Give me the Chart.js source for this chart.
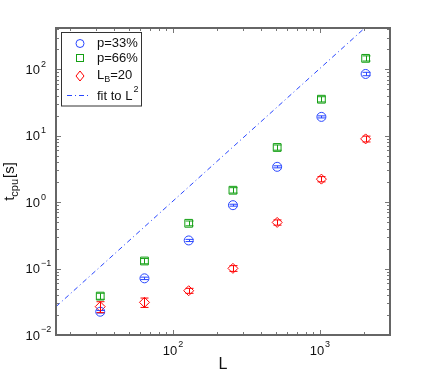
<!DOCTYPE html>
<html>
<head>
<meta charset="utf-8">
<script src="https://cdn.jsdelivr.net/npm/chart.js@4.4.0/dist/chart.umd.min.js"></script>
<style>
html, body { margin: 0; padding: 0; background: #fff; }
</style>
</head>
<body>
<canvas id="chartCpu" width="430" height="378"></canvas>
<script>
// system sizes and cpu times
var sizes = [32, 64, 128, 256, 512, 1024, 2048];
var timeP33 = [0.0224, 0.0713, 0.265, 0.90, 3.4, 19.2, 85];
var errP33 = [0.001, 0.003, 0.01, 0.03, 0.12, 0.7, 5];
var timeP66 = [0.0385, 0.130, 0.48, 1.51, 6.65, 35.4, 146];
var errP66 = [0.004, 0.012, 0.04, 0.14, 0.6, 3.2, 13];
var timeLB20 = [0.0267, 0.031, 0.0464, 0.1007, 0.495, 2.22, 8.95];
var errLB20 = [0.005, 0.005, 0.004, 0.01, 0.045, 0.2, 0.9];
var fitL = [16, 2048];
var fitT = [0.0267, 430];

var blue = 'rgb(40,70,255)';
var green = 'rgb(20,160,20)';
var red = 'rgb(255,0,0)';
var font = '"Liberation Sans", Arial, sans-serif';

function pts(xs, ys) {
    return xs.map(function (x, i) { return { x: x, y: ys[i] }; });
}

var series = [
    { vals: timeP33, errs: errP33, color: blue },
    { vals: timeP66, errs: errP66, color: green },
    { vals: timeLB20, errs: errLB20, color: red }
];

// error bars, drawn through the scales
var errorBars = {
    id: 'errorBars',
    afterDatasetsDraw: function (chart) {
        var ctx = chart.ctx, xs = chart.scales.x, ys = chart.scales.y;
        ctx.save();
        ctx.lineWidth = 1;
        series.forEach(function (s) {
            ctx.strokeStyle = s.color;
            sizes.forEach(function (L, i) {
                var px = Math.round(xs.getPixelForValue(L)) + 0.5;
                var y1 = ys.getPixelForValue(s.vals[i] - s.errs[i]);
                var y2 = ys.getPixelForValue(s.vals[i] + s.errs[i]);
                ctx.beginPath();
                ctx.moveTo(px, y1); ctx.lineTo(px, y2);
                ctx.moveTo(px - 4, y1); ctx.lineTo(px + 4, y1);
                ctx.moveTo(px - 4, y2); ctx.lineTo(px + 4, y2);
                ctx.stroke();
            });
        });
        ctx.restore();
    }
};

function powLabel(ctx, x, y, exp, align) {
    ctx.font = '13px ' + font;
    var w = ctx.measureText('10').width;
    ctx.font = '9px ' + font;
    var we = ctx.measureText(exp).width;
    var x0;
    if (align === 'center') x0 = x - (w + we + 1) / 2;
    else x0 = x - w; // base right aligned at x
    ctx.font = '13px ' + font;
    ctx.textAlign = 'left';
    ctx.textBaseline = 'middle';
    ctx.fillText('10', x0, y);
    ctx.font = '9px ' + font;
    ctx.fillText(exp, x0 + w + 1, y - 6);
}

// matlab style box with inward ticks and 10^n labels
var axesBox = {
    id: 'axesBox',
    afterDraw: function (chart) {
        var ctx = chart.ctx, a = chart.chartArea;
        var xs = chart.scales.x, ys = chart.scales.y;
        ctx.save();
        ctx.strokeStyle = '#777';
        ctx.lineWidth = 1;
        var d, m, v, p, len;
        for (d = Math.floor(Math.log10(xs.min)); d <= Math.ceil(Math.log10(xs.max)); d++) {
            for (m = 1; m <= 9; m++) {
                v = m * Math.pow(10, d);
                if (v < xs.min || v > xs.max) continue;
                p = Math.round(xs.getPixelForValue(v)) + 0.5;
                len = m === 1 ? 5 : 3;
                ctx.beginPath();
                ctx.moveTo(p, a.bottom); ctx.lineTo(p, a.bottom - len);
                ctx.moveTo(p, a.top); ctx.lineTo(p, a.top + len);
                ctx.stroke();
            }
        }
        for (d = Math.floor(Math.log10(ys.min)); d <= Math.ceil(Math.log10(ys.max)); d++) {
            for (m = 1; m <= 9; m++) {
                v = m * Math.pow(10, d);
                if (v < ys.min * 0.999 || v > ys.max) continue;
                p = Math.round(ys.getPixelForValue(v)) + 0.5;
                len = m === 1 ? 5 : 3;
                ctx.beginPath();
                ctx.moveTo(a.left, p); ctx.lineTo(a.left + len, p);
                ctx.moveTo(a.right, p); ctx.lineTo(a.right - len, p);
                ctx.stroke();
            }
        }
        ctx.strokeStyle = '#666';
        ctx.lineWidth = 2;
        ctx.strokeRect(a.left, a.top, a.right - a.left, a.bottom - a.top);

        ctx.fillStyle = '#111';
        [2, 3].forEach(function (e) {
            powLabel(ctx, xs.getPixelForValue(Math.pow(10, e)), a.bottom + 16, String(e), 'center');
        });
        [-2, -1, 0, 1, 2].forEach(function (e) {
            powLabel(ctx, 40, ys.getPixelForValue(Math.pow(10, e)) + 1, e < 0 ? '\u2212' + (-e) : String(e), 'right');
        });

        // axis titles
        ctx.font = '16px ' + font;
        ctx.textAlign = 'center';
        ctx.textBaseline = 'middle';
        ctx.fillText('L', (a.left + a.right) / 2, 365);

        ctx.save();
        ctx.translate(10, (a.top + a.bottom) / 2);
        ctx.rotate(-Math.PI / 2);
        ctx.textAlign = 'left';
        ctx.font = '15px ' + font;
        var wt = ctx.measureText('t').width;
        var ws = ctx.measureText('[s]').width;
        ctx.font = '11px ' + font;
        var wc = ctx.measureText('cpu').width;
        var x0 = -(wt + wc + ws + 1) / 2;
        ctx.font = '15px ' + font;
        ctx.fillText('t', x0, 0);
        ctx.font = '11px ' + font;
        ctx.fillText('cpu', x0 + wt, 5);
        ctx.font = '15px ' + font;
        ctx.fillText('[s]', x0 + wt + wc + 1, 0);
        ctx.restore();

        // legend
        ctx.fillStyle = '#fff';
        ctx.fillRect(61.5, 32.5, 80, 73.5);
        ctx.strokeStyle = '#333';
        ctx.lineWidth = 1;
        ctx.strokeRect(61.5, 32.5, 80, 73.5);

        ctx.lineWidth = 1;
        ctx.strokeStyle = blue;
        ctx.beginPath(); ctx.arc(80, 43.5, 4, 0, Math.PI * 2); ctx.stroke();
        ctx.strokeStyle = green;
        ctx.strokeRect(76.5, 54.5, 7, 7);
        ctx.strokeStyle = red;
        ctx.beginPath();
        ctx.moveTo(80, 71); ctx.lineTo(84, 76); ctx.lineTo(80, 81); ctx.lineTo(76, 76);
        ctx.closePath(); ctx.stroke();
        ctx.strokeStyle = blue;
        ctx.setLineDash([5, 3, 1, 3]);
        ctx.beginPath(); ctx.moveTo(67, 95.5); ctx.lineTo(90, 95.5); ctx.stroke();
        ctx.setLineDash([]);

        ctx.fillStyle = '#111';
        ctx.textAlign = 'left';
        ctx.textBaseline = 'middle';
        ctx.font = '13px ' + font;
        ctx.fillText('p=33%', 97, 43.5);
        ctx.fillText('p=66%', 97, 58.5);
        ctx.fillText('L', 97, 75);
        var wl = ctx.measureText('L').width;
        ctx.font = '9px ' + font;
        ctx.fillText('B', 97 + wl, 80);
        var wb = ctx.measureText('B').width;
        ctx.font = '13px ' + font;
        ctx.fillText('=20', 97 + wl + wb, 75);
        ctx.fillText('fit to L', 97, 96);
        var wf = ctx.measureText('fit to L').width;
        ctx.font = '9px ' + font;
        ctx.fillText('2', 97 + wf + 1, 90);
        ctx.restore();
    }
};

var ctx = document.getElementById('chartCpu').getContext('2d');
var chartCpu = new Chart(ctx, {
    type: 'scatter',
    data: {
        datasets: [{
            label: 'p=33%',
            data: pts(sizes, timeP33),
            pointStyle: 'circle',
            pointRadius: 4.5,
            borderColor: blue,
            backgroundColor: 'rgba(0,0,0,0)',
            borderWidth: 1
        }, {
            label: 'p=66%',
            data: pts(sizes, timeP66),
            pointStyle: 'rect',
            pointRadius: 5.5,
            borderColor: green,
            backgroundColor: 'rgba(0,0,0,0)',
            borderWidth: 1
        }, {
            label: 'L_B=20',
            data: pts(sizes, timeLB20),
            pointStyle: 'rectRot',
            pointRadius: 5,
            borderColor: red,
            backgroundColor: 'rgba(0,0,0,0)',
            borderWidth: 1
        }, {
            label: 'fit to L^2',
            type: 'line',
            data: pts(fitL, fitT),
            borderColor: blue,
            borderWidth: 1,
            borderDash: [5, 3, 1, 3],
            pointRadius: 0,
            fill: false
        }]
    },
    options: {
        responsive: false,
        animation: false,
        layout: { padding: { left: 56, right: 40, top: 28, bottom: 43 } },
        plugins: { legend: { display: false }, tooltip: { enabled: false } },
        scales: {
            x: { type: 'logarithmic', min: 16, max: 3000, display: false },
            y: { type: 'logarithmic', min: 0.01, max: 418, display: false }
        }
    },
    plugins: [errorBars, axesBox]
});
</script>
</body>
</html>
